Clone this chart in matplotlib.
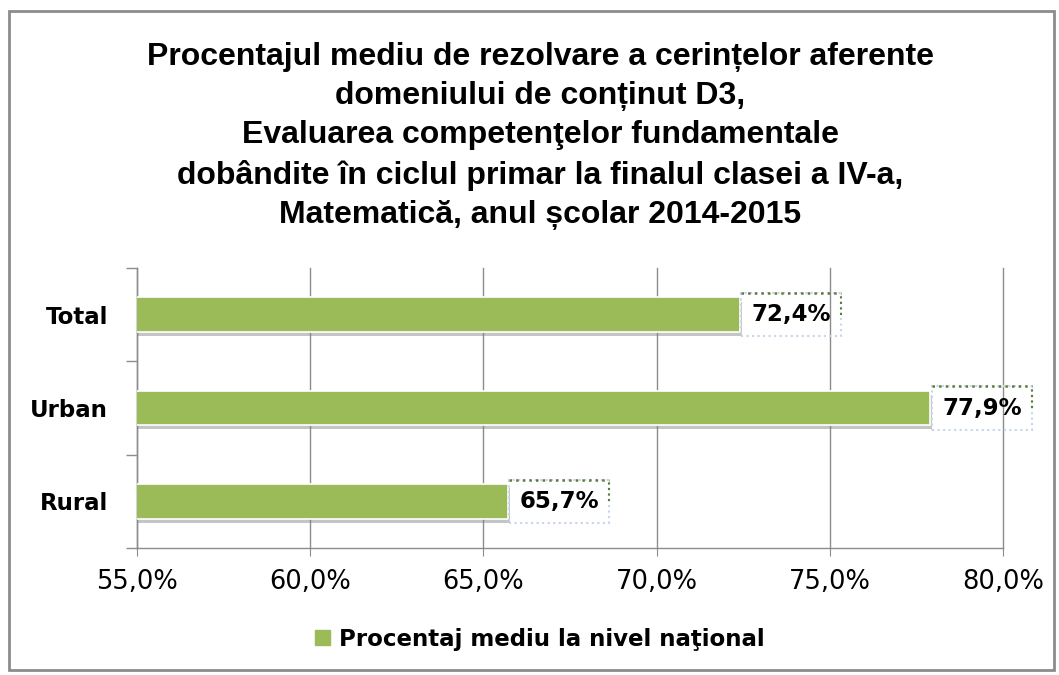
import matplotlib
matplotlib.use("Agg")
import matplotlib.pyplot as plt
import matplotlib.patheffects as pe
from matplotlib.patches import Rectangle
from matplotlib.lines import Line2D
from matplotlib.ticker import FuncFormatter, FixedLocator

# data
categories = ["Rural", "Urban", "Total"]
values = [65.7, 77.9, 72.4]
title = ("Procentajul mediu de rezolvare a cerin\u021belor aferente\n"
         "domeniului de con\u021binut D3,\n"
         "Evaluarea competen\u0163elor fundamentale\n"
         "dob\u00e2ndite \u00een ciclul primar la finalul clasei a IV-a,\n"
         "Matematic\u0103, anul \u0219colar 2014-2015")
legend_label = "Procentaj mediu la nivel na\u0163ional"
xticks = [55, 60, 65, 70, 75, 80]

plt.rcParams['font.family'] = ['DejaVu Sans']
bar_color = '#9bbb59'

fig = plt.figure(figsize=(10.59, 6.75), dpi=100)
fig.patches.append(Rectangle((9/1059, 1-670/675), 1045/1059, 659/675, transform=fig.transFigure,
                             fill=False, edgecolor='#8c8c8c', linewidth=2))
ax = fig.add_axes([137/1059, 1-548/675, 866/1059, 280/675])

ypos = list(range(len(categories)))
bars = ax.barh(ypos, values, left=0, height=0.37, color=bar_color, edgecolor='white', linewidth=1.2,
               zorder=3)
for b in bars:
    b.set_path_effects([pe.SimplePatchShadow(offset=(1.5, -3), shadow_rgbFace='#7f7f7f', alpha=0.45),
                        pe.Normal()])

ax.set_xlim(55, 80)
ax.set_ylim(-0.5, len(categories) - 0.5)
ax.set_xticks(xticks)
ax.xaxis.set_major_formatter(FuncFormatter(lambda v, p: f"{v:.1f}%".replace('.', ',')))
ax.set_yticks(ypos)
ax.set_yticklabels(categories, fontsize=16.5, fontweight='bold')
ax.yaxis.set_minor_locator(FixedLocator([-0.5, 0.5, 1.5, 2.5]))
ax.tick_params(axis='y', which='major', length=0, pad=21)
ax.tick_params(axis='y', which='minor', length=8, color='#8c8c8c', width=1)
ax.tick_params(axis='x', length=6, color='#8c8c8c', labelsize=18.5, pad=9)
ax.grid(axis='x', color='#8c8c8c', linewidth=1, zorder=0)
for gl in ax.get_xgridlines():
    gl.set_clip_on(False)
for s in ['top', 'right']:
    ax.spines[s].set_visible(False)
for s in ['left', 'bottom']:
    ax.spines[s].set_color('#8c8c8c')
    ax.spines[s].set_linewidth(1)

labels = []
for y, v in zip(ypos, values):
    t = ax.annotate(f"{v:.1f}%".replace('.', ','), xy=(v, y), xytext=(8.5, 0), textcoords='offset points',
                    va='center', ha='left', fontsize=16.5, fontweight='bold', zorder=5,
                    bbox=dict(boxstyle='square,pad=0.45', facecolor='none', edgecolor='#c6d4ec',
                              linestyle=':', linewidth=1.5))
    labels.append(t)

# title in Liberation Sans: DejaVu Bold misplaces the comma of ț
fig.text(0.51, 1-42/675, title, ha='center', va='top', fontsize=23, fontweight='bold',
         linespacing=1.4, family=['Liberation Sans', 'DejaVu Sans'])

ax.legend([Rectangle((0, 0), 1, 1, color=bar_color)], [legend_label], loc='upper center',
          bbox_to_anchor=(0.51, 1-607/675), bbox_transform=fig.transFigure, frameon=False,
          prop={'size': 16.5, 'weight': 'bold'}, handlelength=0.65, handleheight=0.65, handletextpad=0.4)

# dark green dotted top edge on label boxes
fig.canvas.draw()
inv = fig.transFigure.inverted()
for t in labels:
    bb = t.get_bbox_patch().get_window_extent()
    (x0, y0), (x1, y1) = inv.transform([(bb.x0, bb.y0), (bb.x1, bb.y1)])
    fig.add_artist(Line2D([x0, x1], [y1, y1], transform=fig.transFigure, color='#5e7a3a',
                          linestyle=':', linewidth=1.8, zorder=6))
    fig.add_artist(Line2D([x1, x1], [y0 + (y1 - y0) * 0.5, y1], transform=fig.transFigure,
                          color='#5e7a3a', linestyle=':', linewidth=1.5, zorder=6))

fig.savefig("out.png", dpi=100)
